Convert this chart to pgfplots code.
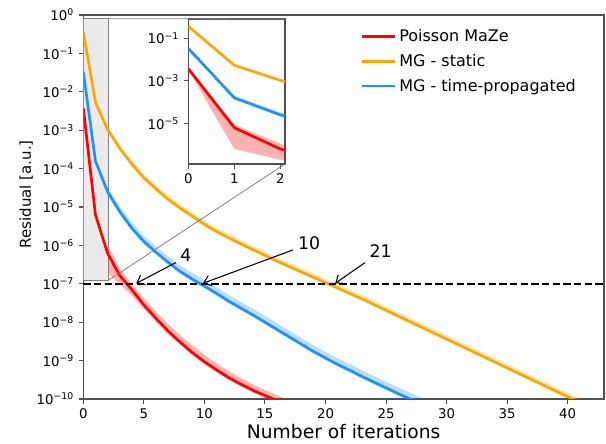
\documentclass[border=0pt]{standalone}
\usepackage{pgfplots}
\pgfplotsset{compat=1.18}
\usepackage{pgfplotstable}
\usepgfplotslibrary{fillbetween}
\usetikzlibrary{arrows.meta}
\usepackage{fontspec}
\setmainfont{DejaVu Sans}
\definecolor{mplorange}{HTML}{FFA500}
\definecolor{mplblue}{HTML}{1E90FF}
\definecolor{spine}{HTML}{505050}

% Poisson MaZe
\pgfplotstableread{
x y lo hi
0 3.72e-3 3.31e-3 4.17e-3
1 6.31e-6 6.31e-7 8.91e-6
2 6.31e-7 2.0e-7 1.12e-6
3 1.66e-7 1.0e-7 2.51e-7
4 7.08e-8 5.01e-8 1.0e-7
5 2.82e-8 2.24e-8 4.17e-8
6 1.26e-8 1.05e-8 1.91e-8
7 5.89e-9 5.01e-9 8.91e-9
8 3.02e-9 2.63e-9 4.57e-9
9 1.62e-9 1.41e-9 2.51e-9
10 9.33e-10 8.13e-10 1.41e-9
11 5.75e-10 5.01e-10 8.51e-10
12 3.63e-10 3.16e-10 5.37e-10
13 2.45e-10 2.14e-10 3.55e-10
14 1.70e-10 1.48e-10 2.40e-10
15 1.23e-10 1.07e-10 1.70e-10
16 9.12e-11 7.94e-11 1.26e-10
17 6.76e-11 5.89e-11 9.33e-11
18 5.01e-11 4.37e-11 6.92e-11
}\maze

% MG - static
\pgfplotstableread{
x y lo hi
0 0.363 0.347 0.380
1 5.37e-3 5.13e-3 5.89e-3
2 1.05e-3 1.0e-3 1.2e-3
3 3.39e-4 3.16e-4 4.17e-4
4 1.32e-4 1.23e-4 1.62e-4
5 5.75e-5 5.37e-5 7.24e-5
6 2.95e-5 2.75e-5 3.72e-5
7 1.58e-5 1.48e-5 2.0e-5
8 9.33e-6 8.71e-6 1.17e-5
9 5.75e-6 5.37e-6 7.24e-6
10 3.55e-6 3.31e-6 4.47e-6
11 2.29e-6 2.14e-6 2.88e-6
12 1.58e-6 1.48e-6 2.0e-6
13 1.10e-6 1.02e-6 1.38e-6
14 7.76e-7 7.24e-7 9.77e-7
15 5.50e-7 5.13e-7 6.92e-7
16 3.89e-7 3.63e-7 4.90e-7
17 2.82e-7 2.63e-7 3.55e-7
18 2.04e-7 1.91e-7 2.57e-7
19 1.48e-7 1.38e-7 1.86e-7
20 1.07e-7 1.0e-7 1.35e-7
21 7.76e-8 7.24e-8 9.77e-8
22 5.62e-8 5.25e-8 7.08e-8
23 4.07e-8 3.80e-8 5.13e-8
24 2.88e-8 2.69e-8 3.63e-8
25 2.04e-8 1.91e-8 2.57e-8
26 1.45e-8 1.35e-8 1.82e-8
27 1.02e-8 9.55e-9 1.29e-8
28 7.24e-9 6.76e-9 9.12e-9
29 5.13e-9 4.79e-9 6.46e-9
30 3.63e-9 3.39e-9 4.57e-9
31 2.57e-9 2.40e-9 3.24e-9
32 1.82e-9 1.70e-9 2.29e-9
33 1.29e-9 1.20e-9 1.62e-9
34 9.12e-10 8.51e-10 1.15e-9
35 6.46e-10 6.03e-10 8.13e-10
36 4.57e-10 4.27e-10 5.75e-10
37 3.24e-10 3.02e-10 4.07e-10
38 2.29e-10 2.14e-10 2.88e-10
39 1.62e-10 1.51e-10 2.04e-10
40 1.15e-10 1.07e-10 1.45e-10
41 8.13e-11 7.59e-11 1.02e-10
42 5.75e-11 5.37e-11 7.24e-11
}\mgstatic

% MG - time-propagated
\pgfplotstableread{
x y lo hi
0 3.31e-2 3.02e-2 3.80e-2
1 1.58e-4 1.38e-4 2.0e-4
2 2.51e-5 2.24e-5 3.31e-5
3 7.59e-6 6.76e-6 1.05e-5
4 2.82e-6 2.51e-6 3.98e-6
5 1.26e-6 1.12e-6 1.78e-6
6 6.61e-7 5.89e-7 9.33e-7
7 3.63e-7 3.24e-7 5.25e-7
8 2.09e-7 1.86e-7 3.02e-7
9 1.32e-7 1.17e-7 1.91e-7
10 8.71e-8 7.76e-8 1.26e-7
11 5.62e-8 5.01e-8 8.13e-8
12 3.55e-8 3.16e-8 5.13e-8
13 2.34e-8 2.09e-8 3.39e-8
14 1.55e-8 1.38e-8 2.24e-8
15 1.0e-8 8.91e-9 1.45e-8
16 6.46e-9 5.75e-9 9.33e-9
17 4.17e-9 3.72e-9 6.03e-9
18 2.69e-9 2.40e-9 3.89e-9
19 1.74e-9 1.55e-9 2.51e-9
20 1.17e-9 1.05e-9 1.70e-9
21 7.94e-10 7.08e-10 1.15e-9
22 5.62e-10 5.01e-10 8.13e-10
23 3.89e-10 3.47e-10 5.62e-10
24 2.75e-10 2.45e-10 3.98e-10
25 1.95e-10 1.74e-10 2.82e-10
26 1.38e-10 1.23e-10 2.0e-10
27 1.0e-10 8.91e-11 1.45e-10
28 7.24e-11 6.46e-11 1.05e-10
29 5.25e-11 4.68e-11 7.59e-11
}\mgtime

\newcommand{\drawseries}{%
  \addplot [draw=none, name path=rhi, forget plot] table [x=x, y=hi] {\maze};
  \addplot [draw=none, name path=rlo, forget plot] table [x=x, y=lo] {\maze};
  \addplot [fill=red, fill opacity=0.3, draw=none, forget plot] fill between [of=rhi and rlo];
  \addplot [draw=none, name path=ohi, forget plot] table [x=x, y=hi] {\mgstatic};
  \addplot [draw=none, name path=olo, forget plot] table [x=x, y=lo] {\mgstatic};
  \addplot [fill=mplorange, fill opacity=0.3, draw=none, forget plot] fill between [of=ohi and olo];
  \addplot [draw=none, name path=bhi, forget plot] table [x=x, y=hi] {\mgtime};
  \addplot [draw=none, name path=blo, forget plot] table [x=x, y=lo] {\mgtime};
  \addplot [fill=mplblue, fill opacity=0.3, draw=none, forget plot] fill between [of=bhi and blo];
  \addplot [red, line width=2pt] table [x=x, y=y] {\maze};
  \addplot [mplorange, line width=2pt] table [x=x, y=y] {\mgstatic};
  \addplot [mplblue, line width=2pt] table [x=x, y=y] {\mgtime};
}

\begin{document}
\begin{tikzpicture}
\begin{axis}[
  name=main,
  ymode=log,
  scale only axis,
  axis line style={spine, line width=1pt},
  tick style={spine, line width=0.8pt},
  major tick length=3.5pt,
  tick align=outside,
  xtick pos=bottom, ytick pos=left,
  yminorticks=false,
  tick label style={font=\fontsize{10}{12}\selectfont, text=black},
  /pgf/number format/assume math mode=true,
  width=390.5pt, height=288pt,
  xmin=0, xmax=43, ymin=1e-10, ymax=1,
  xtick={0,5,...,40},
  ytick={1,1e-1,1e-2,1e-3,1e-4,1e-5,1e-6,1e-7,1e-8,1e-9,1e-10},
  yticklabels={10\textsuperscript{0},10\textsuperscript{−1},10\textsuperscript{−2},10\textsuperscript{−3},10\textsuperscript{−4},10\textsuperscript{−5},10\textsuperscript{−6},10\textsuperscript{−7},10\textsuperscript{−8},10\textsuperscript{−9},10\textsuperscript{−10}},
  xlabel={Number of iterations}, ylabel={Residual [a.u.]},
  xlabel style={font=\fontsize{14}{16}\selectfont, yshift=2.5pt},
  ylabel style={font=\fontsize{11.25}{13}\selectfont, yshift=-4pt, xshift=9.5pt},
  legend style={draw=none, fill=none, font=\fontsize{12}{14}\selectfont,
    at={(rel axis cs:0.527,0.977)}, anchor=north west, row sep=4pt,
    inner sep=2pt},
  legend cell align=left,
  legend image code/.code={\draw[#1, line width=2pt] (0pt,0pt) -- (25pt,0pt);},
  legend entries={Poisson MaZe, MG - static, MG - time-propagated},
]
\draw[fill=black!8, draw=black!50, line width=0.6pt] (axis cs:0,1.25e-7) rectangle (axis cs:2.1,0.8);
\coordinate (rTR) at (axis cs:2.1,0.8);
\coordinate (rBR) at (axis cs:2.1,1.25e-7);
\coordinate (insetNW) at (rel axis cs:0.2017,0.9896);
\drawseries
\addplot [black, line width=1.5pt, dash pattern=on 5.5pt off 2.5pt, forget plot] coordinates {(0,1e-7) (43,1e-7)};
\draw[-{Straight Barb[length=5pt,width=8pt]}, line width=0.8pt] (axis cs:7.63,3.55e-7) -- (axis cs:4.38,1.03e-7);
\node[font=\fontsize{13}{15}\selectfont] at (axis cs:8.48,5.62e-7) {4};
\draw[-{Straight Barb[length=5pt,width=8pt]}, line width=0.8pt] (axis cs:17.3,7.59e-7) -- (axis cs:9.88,1.03e-7);
\node[font=\fontsize{13}{15}\selectfont] at (axis cs:18.65,1.15e-6) {10};
\draw[-{Straight Barb[length=5pt,width=8pt]}, line width=0.8pt] (axis cs:23.26,3.55e-7) -- (axis cs:20.8,1.03e-7);
\node[font=\fontsize{13}{15}\selectfont] at (axis cs:24.56,7.24e-7) {21};
\end{axis}

\begin{axis}[
  name=inset,
  at={(insetNW)}, anchor=north west,
  ymode=log,
  scale only axis,
  axis line style={spine, line width=1pt},
  tick style={spine, line width=0.8pt},
  major tick length=3.5pt,
  tick align=outside,
  xtick pos=bottom, ytick pos=left,
  yminorticks=false,
  tick label style={font=\fontsize{10}{12}\selectfont, text=black},
  /pgf/number format/assume math mode=true,
  width=72.5pt, height=108.75pt,
  xmin=0, xmax=2.1, ymin=1.25e-7, ymax=0.8,
  xtick={0,1,2},
  ytick={1e-1,1e-3,1e-5},
  yticklabels={10\textsuperscript{−1},10\textsuperscript{−3},10\textsuperscript{−5}},
  axis background/.style={fill=white},
]
\drawseries
\end{axis}
\draw[black!50, line width=0.6pt] (rTR) -- (inset.north east);
\draw[black!50, line width=0.6pt] (rBR) -- (inset.south east);
\pgfresetboundingbox
\path ([shift={(-62.5pt,-33.75pt)}]main.south west) rectangle ([shift={(1.5pt,11.25pt)}]main.north east);
\end{tikzpicture}
\end{document}
